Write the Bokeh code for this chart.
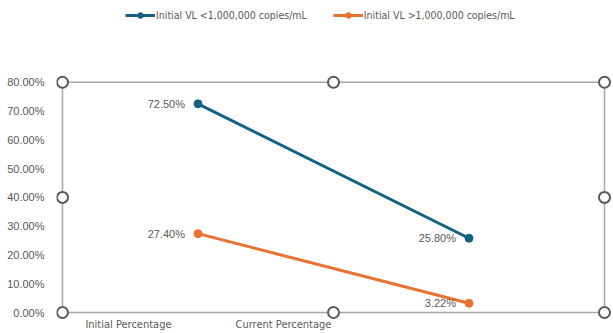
from bokeh.plotting import figure
from bokeh.models import (Range1d, FixedTicker, Legend, LegendItem, ColumnDataSource)
from bokeh.core.properties import value
from bokeh.embed import file_html
from bokeh.resources import INLINE

# ---- data -------------------------------------------------------------
stage_positions = [0.5, 1.5]                     # Initial, Current
stage_labels = ["Initial Percentage", "Current Percentage"]
series_names = ["Initial VL <1,000,000 copies/mL", "Initial VL >1,000,000 copies/mL"]
low_vl = [0.725, 0.258]
high_vl = [0.274, 0.0322]
y_ticks = [0.0, 0.1, 0.2, 0.3, 0.4, 0.5, 0.6, 0.7, 0.8]

BLUE = "#156082"
ORANGE = "#E97132"
GRAY_TXT = "#595959"
NARROW = "'DejaVu Sans Condensed', Lato"
SANS = "Liberation Sans"

# plot-area scale: 271 px per category, 288.75 px per unit of y;
# the frame runs to the top edge so the legend sits inside it
px_x = 271.0
px_y = 288.75

p = figure(width=613, height=333, output_backend="svg", toolbar_location=None,
           x_range=Range1d(-6 / px_x, 2 + 9 / px_x),
           y_range=Range1d(-7 / px_y, 0.8 + 82 / px_y),
           min_border_left=56, min_border_right=0, min_border_top=0,
           min_border_bottom=13)
p.outline_line_color = None
p.background_fill_color = "white"
p.border_fill_color = "white"
p.xgrid.visible = False
p.ygrid.visible = False

# y axis: percentage labels only
p.yaxis.ticker = FixedTicker(ticks=y_ticks)
p.yaxis.major_label_overrides = {t: f"{t:.2%}" for t in y_ticks}
p.yaxis.axis_line_color = None
p.yaxis.major_tick_line_color = None
p.yaxis.minor_tick_line_color = None
p.yaxis.major_label_standoff = 6
p.yaxis.major_label_text_font = SANS
p.yaxis.major_label_text_font_size = "11px"
p.yaxis.major_label_text_color = GRAY_TXT

# x axis: category captions
x_label_pos = [0.2435, 0.8155]
p.xaxis.ticker = FixedTicker(ticks=x_label_pos)
p.xaxis.major_label_overrides = dict(zip(x_label_pos, stage_labels))
p.xaxis.axis_line_color = None
p.xaxis.major_tick_line_color = None
p.xaxis.minor_tick_line_color = None
p.xaxis.major_tick_out = 0
p.xaxis.major_tick_in = 0
p.xaxis.major_label_standoff = -2
p.xaxis.major_label_text_font = NARROW
p.xaxis.major_label_text_font_size = "11px"
p.xaxis.major_label_text_color = GRAY_TXT

# plot-area frame
p.quad(left=[0], right=[2], bottom=[0], top=[0.8], fill_color=None,
       line_color="#a6a6a6", line_width=1.5)

# series
items = []
for name, vals, color in [(series_names[0], low_vl, BLUE), (series_names[1], high_vl, ORANGE)]:
    src = ColumnDataSource(dict(x=stage_positions, y=vals,
                                lbl=[f"{v:.2%}" for v in vals]))
    ln = p.line("x", "y", source=src, line_color=color, line_width=3)
    mk = p.scatter("x", "y", source=src, size=8, fill_color=color, line_color=color)
    p.text("x", "y", text="lbl", source=src, x_offset=-13, text_align="right",
           text_baseline="middle", text_font=value(SANS), text_font_size="11px",
           text_color=GRAY_TXT)
    items.append(LegendItem(label=name, renderers=[ln, mk]))

# selection handles around the plot area
hx = [0, 1, 2, 0, 2, 0, 1, 2]
hy = [0.8, 0.8, 0.8, 0.4, 0.4, 0.0, 0.0, 0.0]
p.scatter(hx, hy, size=11, fill_color="white", line_color=GRAY_TXT, line_width=2)

legend = Legend(items=items, orientation="horizontal", location=(69, 297),
                glyph_width=30, glyph_height=14, label_height=14,
                label_standoff=1, spacing=26, padding=0, margin=0,
                label_text_font=NARROW, label_text_font_size="10.5px",
                label_text_color=GRAY_TXT, border_line_color=None,
                background_fill_alpha=0)
p.add_layout(legend, "center")

open("out.html", "w").write(file_html(p, INLINE))
